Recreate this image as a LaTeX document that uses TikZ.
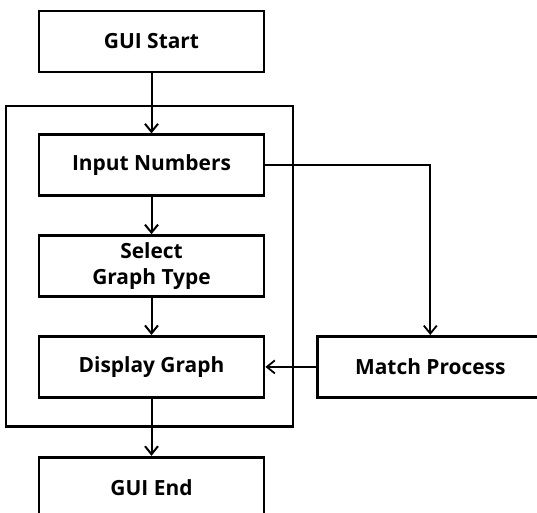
\documentclass[tikz,border=0pt]{standalone}
\usepackage{fontspec}
\setmainfont{Open Sans}
\usepackage{tikz}
\usetikzlibrary{arrows.meta,positioning,fit,backgrounds}

\begin{document}
\begin{tikzpicture}[
    x=1bp, y=1bp,
    node distance=37bp,
    procbox/.style={rectangle, draw=black, line width=2.8bp, fill=white,
                 minimum width=225bp, minimum height=61bp, align=center,
                 inner sep=0pt, font=\fontsize{21}{23}\selectfont\bfseries},
    arr/.style={-{Straight Barb[length=8bp,width=13bp]}, line width=2bp, black},
    thinarr/.style={arr, line width=1.8bp}
]
\useasboundingbox (0,0) rectangle (537,-513);
\node[procbox] (guistart) at (151.5,-41.5) {GUI Start};
\node[procbox, below=60bp of guistart] (input) {Input Numbers};
\node[procbox, below=of input] (select) {Select\\[3bp]Graph Type};
\node[procbox, below=of select] (display) {Display Graph};
\node[procbox, below=57bp of display] (guiend) {GUI End};
\node[procbox, right=51bp of display] (match) {Match Process};
% frame round the GUI part
\begin{scope}[on background layer]
\node[draw=black, line width=2.8bp, inner sep=0pt, fit={(input.north west) (display.south east)},
      xshift=-2bp, minimum width=287bp, minimum height=320bp] (guiframe) {};
\end{scope}
\draw[arr] (guistart)--(input);
\draw[arr] (input)--(select);
\draw[arr] (select)--(display);
\draw[arr] (display)--(guiend);
\draw[thinarr] (input.east) -| (match.north);
\draw[thinarr] (match.west)--(display.east);
\end{tikzpicture}
\end{document}
